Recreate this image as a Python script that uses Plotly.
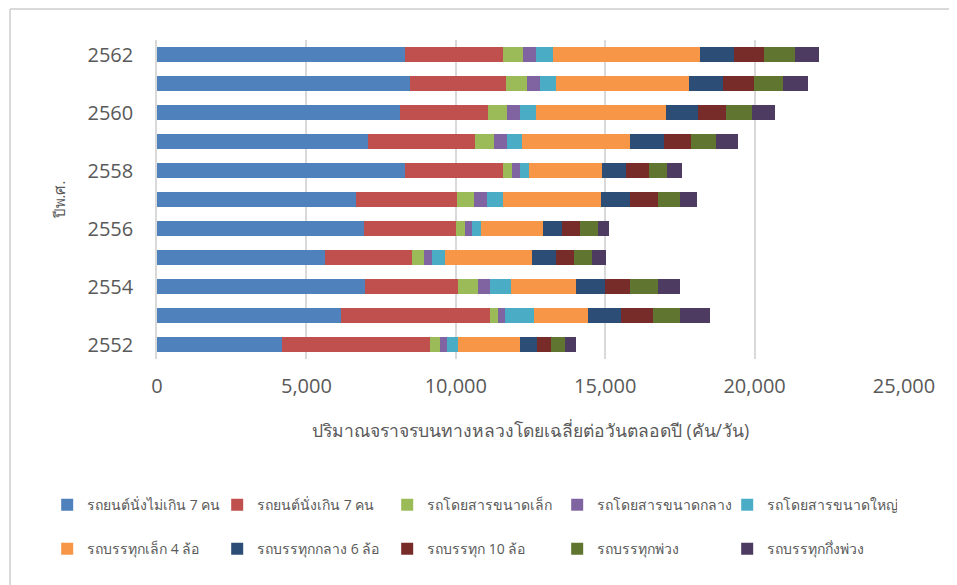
import plotly.graph_objects as go

years = [2552, 2553, 2554, 2555, 2556, 2557, 2558, 2559, 2560, 2561, 2562]

series_names = [
    "รถยนต์นั่งไม่เกิน 7 คน",
    "รถยนต์นั่งเกิน 7 คน",
    "รถโดยสารขนาดเล็ก",
    "รถโดยสารขนาดกลาง",
    "รถโดยสารขนาดใหญ่",
    "รถบรรทุกเล็ก 4 ล้อ",
    "รถบรรทุกกลาง 6 ล้อ",
    "รถบรรทุก 10 ล้อ",
    "รถบรรทุกพ่วง",
    "รถบรรทุกกึ่งพ่วง",
]

car_le7 = [4174, 6148, 6956, 5624, 6926, 6657, 8302, 7046, 8138, 8452, 8287]
car_gt7 = [4966, 5011, 3126, 2917, 3081, 3395, 3261, 3605, 2932, 3231, 3306]
bus_small = [344, 255, 658, 389, 314, 554, 329, 643, 658, 688, 643]
bus_medium = [224, 224, 389, 269, 210, 449, 269, 434, 434, 434, 434]
bus_large = [374, 972, 733, 434, 299, 508, 299, 478, 523, 553, 569]
truck_4w = [2065, 1810, 2169, 2917, 2094, 3291, 2439, 3635, 4353, 4458, 4921]
truck_6w = [568, 1092, 958, 808, 644, 987, 807, 1122, 1062, 1122, 1137]
truck_10w = [463, 1077, 852, 598, 598, 913, 748, 898, 958, 1032, 1002]
trailer = [479, 928, 913, 599, 598, 763, 629, 853, 867, 972, 1047]
semi_trailer = [374, 987, 748, 463, 374, 553, 479, 718, 763, 853, 793]

series_values = [car_le7, car_gt7, bus_small, bus_medium, bus_large,
                 truck_4w, truck_6w, truck_10w, trailer, semi_trailer]

colors = ["#4F81BD", "#C0504D", "#9BBB59", "#8064A2", "#4BACC6",
          "#F79646", "#2C4D75", "#772C2A", "#5F7530", "#4D3B62"]

x_ticks = [0, 5000, 10000, 15000, 20000, 25000]
y_ticks = [2552, 2554, 2556, 2558, 2560, 2562]

FONT = "Open Sans, Noto Sans, Liberation Sans, sans-serif"
GREY = "#595959"

fig = go.Figure()
for i, (name, vals) in enumerate(zip(series_names, series_values)):
    fig.add_trace(go.Bar(
        x=vals, y=years, orientation="h", name=name,
        marker=dict(color=colors[i], line=dict(width=0)),
        legend="legend" if i < 5 else "legend2",
    ))

legend_common = dict(orientation="h", xanchor="left", yanchor="middle",
                      entrywidth=125, entrywidthmode="pixels", traceorder="normal",
                      font=dict(size=14, color=GREY), bgcolor="rgba(0,0,0,0)",
                      itemwidth=30)

# page body has an 8px default margin, so the figure is drawn 8px smaller
PX = lambda px: (px - 157) / 747      # page x pixel -> paper fraction
PY = lambda py: (359 - py) / 319      # page y pixel -> paper fraction

fig.update_layout(
    width=949, height=577,
    barmode="stack", bargap=0.5,
    plot_bgcolor="white", paper_bgcolor="white",
    margin=dict(l=149, r=53, t=32, b=226, autoexpand=False),
    font=dict(family=FONT, color=GREY),
    xaxis=dict(
        range=[0, 25000], tickvals=x_ticks, tickformat=",",
        showgrid=True, gridcolor="#D9D9D9", gridwidth=1.5,
        zeroline=False, showline=False, automargin=False,
        tickfont=dict(size=20, color=GREY), ticklabelstandoff=13,
        title=dict(text="ปริมาณจราจรบนทางหลวงโดยเฉลี่ยต่อวันตลอดปี (คัน/วัน)",
                   font=dict(size=17.5, color=GREY), standoff=26),
    ),
    yaxis=dict(
        range=[2551.5, 2562.5], tickvals=y_ticks,
        showgrid=False, zeroline=False, automargin=False,
        showline=True, linecolor="#D9D9D9", linewidth=1.5,
        tickfont=dict(size=20, color=GREY), ticklabelstandoff=18,
        title=dict(text="ปีพ.ศ.", font=dict(size=15, color=GREY), standoff=18),
    ),
    legend=dict(x=-0.147, y=-0.458, **legend_common),
    legend2=dict(x=-0.147, y=-0.596, **legend_common),
    shapes=[
        dict(type="line", xref="paper", yref="paper",
             x0=PX(10), x1=PX(960), y0=PY(9), y1=PY(9),
             line=dict(color="#D9D9D9", width=2), layer="above"),
        dict(type="line", xref="paper", yref="paper",
             x0=PX(10), x1=PX(10), y0=PY(9), y1=PY(590),
             line=dict(color="#D9D9D9", width=2), layer="above"),
    ],
)

fig.write_html("out.html")
